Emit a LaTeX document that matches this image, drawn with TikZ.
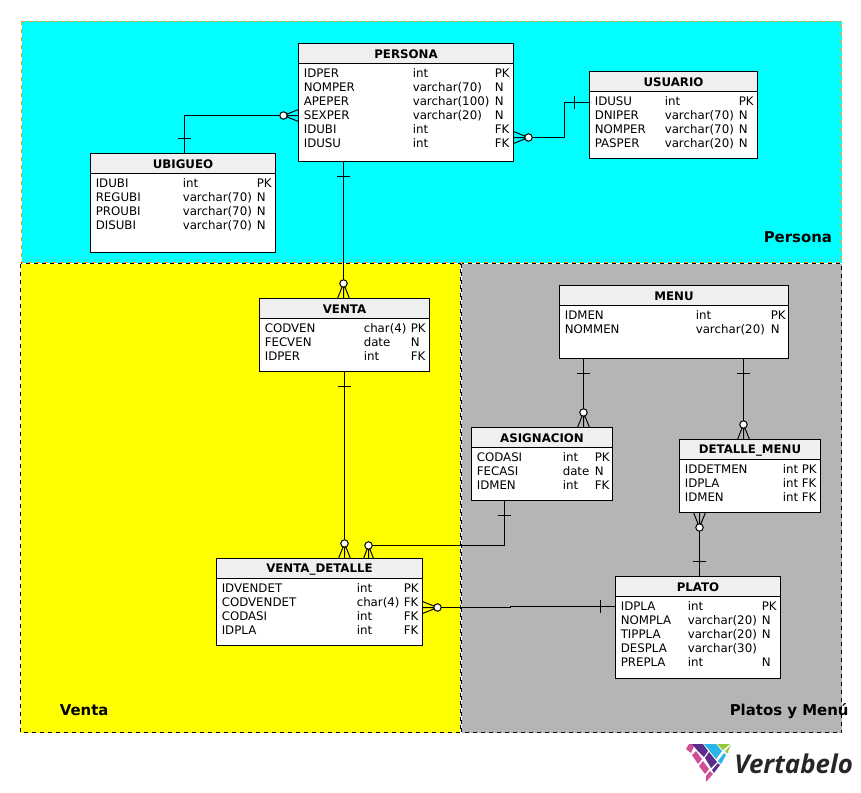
\documentclass[tikz,border=0pt]{standalone}
\usepackage{fontspec}
\setmainfont{DejaVu Sans}
\newfontfamily\logofont{Open Sans}
\definecolor{cabecera}{HTML}{EFEFEF}
\definecolor{gris}{HTML}{B5B5B5}
\definecolor{naranja}{HTML}{FF9900}
\definecolor{cian}{HTML}{00FFFF}
\definecolor{amarillo}{HTML}{FFFF00}
\definecolor{rosa}{HTML}{CF4F97}
\definecolor{morado}{HTML}{5B2C8A}
\definecolor{celeste}{HTML}{29B5E8}
\definecolor{verde}{HTML}{98C83C}
\tikzset{
  campo/.style={inner sep=0pt,anchor=west,text height=8.2pt,text depth=2pt,font=\fontsize{8.85}{10}\selectfont},
  titulo/.style={font=\bfseries\fontsize{8.85}{10}\selectfont,inner sep=0pt},
  zona/.style={font=\bfseries\fontsize{11.2}{13}\selectfont,inner sep=0pt,anchor=west},
  enlace/.style={draw,line width=0.75pt},
  muchos/.pic={
    \draw[line width=0.75pt] (0,-6) -- (15,0) (0,6) -- (15,0) (0,0) -- (15,0);
    \draw[line width=0.75pt,fill=white] (15,0) circle (2.8pt);
  },
  muchosb/.pic={
    \draw[line width=0.75pt] (0,-5) -- (13,0) (0,5) -- (13,0) (0,0) -- (13,0);
    \draw[line width=0.75pt,fill=white] (13,0) circle (2.8pt);
  },
  uno/.pic={
    \draw[line width=0.75pt] (0,-6.5) -- (0,6.5);
  }
}
% caja y cabecera de una tabla
\newcommand{\tabla}[6]{
  \fill[white] (#2,#3) rectangle (#4,#5);
  \fill[cabecera] (#2,#3) rectangle (#4,#3+20);
  \draw[line width=0.75pt] (#2,#3+20) -- (#4,#3+20);
  \draw[line width=0.75pt] (#2,#3) rectangle (#4,#5);
  \coordinate (#1-nw) at (#2,#3);
  \node[titulo] (#1-t) at ({(#2+#4)/2},#3+10.7) {#6};
}
% columnas de una tabla
\newcommand{\filas}[6]{
  \foreach \a/\b/\c [count=\i from 0] in {#6} {
    \node[campo] (#1-a\i) at (#3-0.5,#2+\i*14) {\a};
    \node[campo] (#1-b\i) at (#4-0.5,#2+\i*14) {\b};
    \node[campo] (#1-c\i) at (#5-0.5,#2+\i*14) {\c};
  }
}
\begin{document}
\begin{tikzpicture}[x=0.75pt,y=-0.75pt]
  \useasboundingbox (0,0) rectangle (861,793);
  % zonas
  \draw[fill=amarillo,dashed,line width=0.75pt] (20.5,263.5) rectangle (460,732.5);
  \draw[fill=gris,dashed,line width=0.75pt] (461.5,263.5) rectangle (841.5,732.5);
  \draw[fill=cian,draw=naranja,dashed,line width=0.75pt] (21.5,21) rectangle (841.5,262.5);
  \node[zona] (lblpersona) at (763.5,237) {Persona};
  \node[zona] (lblventa) at (59.5,710.5) {Venta};
  \node[zona] (lblplatos) at (729.5,711.5) {Platos y Menú};
  % tablas
  \tabla{persona}{298.5}{43.5}{513.5}{161.5}{PERSONA}
  \filas{persona}{73}{304}{413}{495}{IDPER/int/PK,NOMPER/varchar(70)/N,APEPER/varchar(100)/N,SEXPER/varchar(20)/N,IDUBI/int/FK,IDUSU/int/FK}
  \tabla{ubigueo}{90.5}{153.5}{275.5}{252.5}{UBIGUEO}
  \filas{ubigueo}{183}{96}{183}{257}{IDUBI/int/PK,REGUBI/varchar(70)/N,PROUBI/varchar(70)/N,DISUBI/varchar(70)/N}
  \tabla{usuario}{589.5}{71.5}{757.5}{158.5}{USUARIO}
  \filas{usuario}{101}{595}{665}{739}{IDUSU/int/PK,DNIPER/varchar(70)/N,NOMPER/varchar(70)/N,PASPER/varchar(20)/N}
  \tabla{venta}{259.5}{298.5}{429.5}{371.5}{VENTA}
  \filas{venta}{328}{265}{364}{411}{CODVEN/char(4)/PK,FECVEN/date/N,IDPER/int/FK}
  \tabla{menu}{559.5}{285.5}{788.5}{358.5}{MENU}
  \filas{menu}{315}{565}{696}{771}{IDMEN/int/PK,NOMMEN/varchar(20)/N}
  \tabla{asignacion}{471.5}{427.5}{612.5}{500.5}{ASIGNACION}
  \filas{asignacion}{457}{477}{563}{595}{CODASI/int/PK,FECASI/date/N,IDMEN/int/FK}
  \tabla{detalle}{679.5}{439.5}{820.5}{512.5}{DETALLE\_MENU}
  \filas{detalle}{469}{685}{783}{802}{IDDETMEN/int/PK,IDPLA/int/FK,IDMEN/int/FK}
  \tabla{ventadet}{216.5}{558.5}{422.5}{645.5}{VENTA\_DETALLE}
  \filas{ventadet}{588}{222}{357}{404}{IDVENDET/int/PK,CODVENDET/char(4)/FK,CODASI/int/FK,IDPLA/int/FK}
  \tabla{plato}{615.5}{576.5}{780.5}{678.5}{PLATO}
  \filas{plato}{606}{621}{688}{762}{IDPLA/int/PK,NOMPLA/varchar(20)/N,TIPPLA/varchar(20)/N,DESPLA/varchar(30)/{},PREPLA/int/N}
  % extremos de las relaciones
  \coordinate (perL) at (298.5,115.5);
  \coordinate (ubiT) at (184.5,153.5);
  \coordinate (perR) at (513.5,137.5);
  \coordinate (usuL) at (589.5,102.5);
  \coordinate (perB) at (343.5,161.5);
  \coordinate (venT) at (343.5,298.5);
  \coordinate (venB) at (344.5,371.5);
  \coordinate (detT) at (344.5,558.5);
  \coordinate (asiB) at (504.5,500.5);
  \coordinate (detT2) at (368.5,558.5);
  \coordinate (detR) at (422.5,607.5);
  \coordinate (plaL) at (615.5,606.5);
  \coordinate (menB) at (583.5,358.5);
  \coordinate (asiT) at (583.5,427.5);
  \coordinate (menB2) at (743.5,358.5);
  \coordinate (dmT) at (743.5,439.5);
  \coordinate (dmB) at (699.5,512.5);
  \coordinate (plaT) at (699.5,576.5);
  % relaciones
  \draw[enlace] (perL) -| (ubiT);
  \draw[enlace] (perR) -- (564.5,137.5) |- (usuL);
  \draw[enlace] (perB) -- (venT);
  \draw[enlace] (venB) -- (detT);
  \draw[enlace] (asiB) |- (368.5,545.5) -- (detT2);
  \draw[enlace] (detR) -- (510.5,607.5) -- (510.5,606.5) -- (plaL);
  \draw[enlace] (menB) -- (asiT);
  \draw[enlace] (menB2) -- (dmT);
  \draw[enlace] (dmB) -- (plaT);
  \pic[rotate=180] at (perL) {muchos};
  \pic at (perR) {muchos};
  \pic[rotate=90] at (venT) {muchos};
  \pic[rotate=90] at (detT) {muchos};
  \pic[rotate=90] at (detT2) {muchosb};
  \pic at (detR) {muchos};
  \pic[rotate=90] at (asiT) {muchos};
  \pic[rotate=90] at (dmT) {muchos};
  \pic[rotate=-90] at (dmB) {muchos};
  \pic[rotate=90] at (184.5,138) {uno};
  \pic at (574,102.5) {uno};
  \pic[rotate=90] at (343.5,176) {uno};
  \pic[rotate=90] at (344.5,386) {uno};
  \pic[rotate=90] at (504.5,515.5) {uno};
  \pic at (600.5,606.5) {uno};
  \pic[rotate=90] at (583.5,373.5) {uno};
  \pic[rotate=90] at (743.5,373.5) {uno};
  \pic[rotate=90] at (699.5,561) {uno};
  % logo
  \fill[rosa] (686,749) -- (689,744) -- (695,744) -- (691,753) -- cycle;
  \fill[rosa] (692,755) -- (696,751) -- (702,759) -- (698,764) -- cycle;
  \fill[rosa] (699,766) -- (703,761) -- (709,769) -- (705,774) -- cycle;
  \fill[rosa] (706,776) -- (710,771) -- (713,774) -- (706,782) -- cycle;
  \fill[morado] (692,744) -- (703,744) -- (708,751) -- (704,757) -- (697,750) -- cycle;
  \fill[morado] (705,758) -- (709,752) -- (717,762) -- (711,768) -- cycle;
  \fill[morado] (712,770) -- (718,763) -- (720,765) -- (714,773) -- cycle;
  \fill[celeste] (704,744) -- (716,744) -- (722,751) -- (716,759) -- (709,750) -- cycle;
  \fill[celeste] (718,761) -- (724,753) -- (726,755) -- (721,764) -- cycle;
  \fill[verde] (717,744) -- (730,744) -- (723,750) -- cycle;
  \fill[verde] (725,751) -- (731,745) -- (727,754) -- cycle;
  \node[inner sep=0pt,anchor=west,text=black!85] (logo) at (734,763.5) {\logofont\bfseries\itshape\fontsize{19.4}{24}\selectfont Vertabelo};
\end{tikzpicture}
\end{document}
